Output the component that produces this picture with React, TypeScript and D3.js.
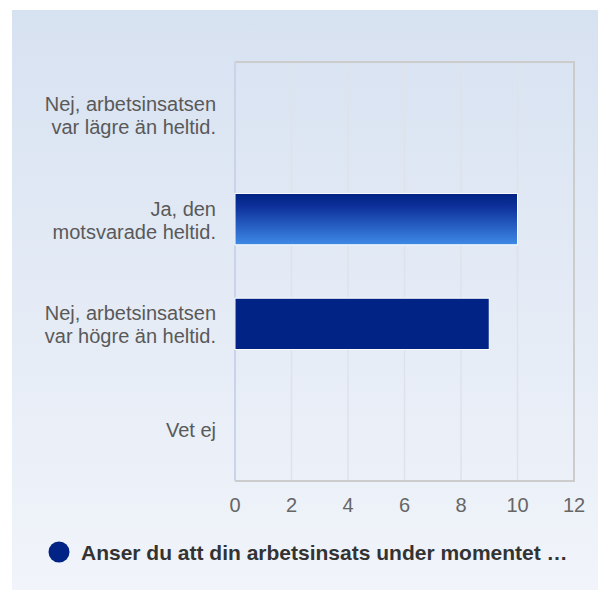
import * as d3 from "d3";
import {useEffect, useRef} from "react";

const categories = [
  "Nej, arbetsinsatsen|var lägre än heltid.",
  "Ja, den|motsvarade heltid.",
  "Nej, arbetsinsatsen|var högre än heltid.",
  "Vet ej",
];
const values = [0, 10, 9, 0];
const ticks = [0, 2, 4, 6, 8, 10, 12];
const seriesName = "Anser du att din arbetsinsats under momentet …";

export default function App() {
  const ref = useRef<SVGSVGElement>(null);

  useEffect(() => {
    const W = 598, H = 590;
    const svg = d3.select(ref.current);
    svg.selectAll("*").remove();
    const font = "'Liberation Sans', Arial, sans-serif";

    const defs = svg.append("defs");
    const bg = defs.append("linearGradient").attr("id", "bg")
      .attr("x1", 0).attr("y1", 0).attr("x2", 0).attr("y2", 1);
    bg.append("stop").attr("offset", "0%").attr("stop-color", "#d7e2f1");
    bg.append("stop").attr("offset", "100%").attr("stop-color", "#f1f4fa");
    const bar = defs.append("linearGradient").attr("id", "barGrad")
      .attr("x1", 0).attr("y1", 0).attr("x2", 0).attr("y2", 1);
    bar.append("stop").attr("offset", "0%").attr("stop-color", "#002383");
    bar.append("stop").attr("offset", "25%").attr("stop-color", "#0d309a");
    bar.append("stop").attr("offset", "100%").attr("stop-color", "#3e8ae6");

    // panel background
    svg.append("rect").attr("x", 12).attr("y", 10)
      .attr("width", W - 12).attr("height", H - 10)
      .attr("fill", "url(#bg)");

    const left = 235, right = 574, top = 62, bottom = 481;

    const x = d3.scaleLinear().domain([0, 12]).range([left, right]);
    const y = d3.scaleBand().domain(categories).range([top, bottom])
      .paddingInner(0.51).paddingOuter(0.255);

    // gridlines
    svg.append("g").selectAll("line")
      .data(ticks.slice(1, -1))
      .enter().append("line")
        .attr("x1", d => x(d)).attr("x2", d => x(d))
        .attr("y1", top).attr("y2", bottom)
        .attr("stroke", "#dfe2e8").attr("stroke-width", 1.5);

    // plot border
    svg.append("path")
      .attr("d", `M${left},${top}H${right}V${bottom}H${left}`)
      .attr("fill", "none").attr("stroke", "#cccccc").attr("stroke-width", 2);
    svg.append("line")
      .attr("x1", left).attr("x2", left).attr("y1", top).attr("y2", bottom)
      .attr("stroke", "#c9d4e8").attr("stroke-width", 2);

    // bars
    svg.append("g").selectAll("rect")
      .data(values.map((v, i) => ({v, c: categories[i], i})).filter(d => d.v > 0))
      .enter().append("rect")
        .attr("x", x(0))
        .attr("y", d => y(d.c)!)
        .attr("width", d => x(d.v) - x(0))
        .attr("height", y.bandwidth())
        .attr("fill", d => d.i === 1 ? "url(#barGrad)" : "#002385")
        .attr("stroke", "#ffffff").attr("stroke-width", 1);

    // category labels
    categories.forEach(c => {
      const lines = c.split("|");
      const cy = y(c)! + y.bandwidth() / 2;
      const t = svg.append("text")
        .attr("text-anchor", "end")
        .attr("font-family", font).attr("font-size", 20)
        .attr("fill", "#595959");
      lines.forEach((l, i) => {
        t.append("tspan").attr("x", 216)
          .attr("y", cy + 8 + (i - (lines.length - 1) / 2) * 23)
          .text(l);
      });
    });

    // x tick labels
    svg.append("g").selectAll("text")
      .data(ticks)
      .enter().append("text")
        .attr("x", d => x(d)).attr("y", 512)
        .attr("text-anchor", "middle")
        .attr("font-family", font).attr("font-size", 20)
        .attr("fill", "#666666")
        .text(d => d);

    // legend
    svg.append("circle").attr("cx", 59).attr("cy", 552).attr("r", 10.5)
      .attr("fill", "#002385");
    svg.append("text").attr("x", 81).attr("y", 560)
      .attr("font-family", font).attr("font-size", 21).attr("font-weight", "bold")
      .attr("fill", "#333333")
      .text(seriesName);
  });

  return (
    <svg ref={ref} width={598} height={590}
      style={{position: "absolute", left: 0, top: 0}} />
  );
}
